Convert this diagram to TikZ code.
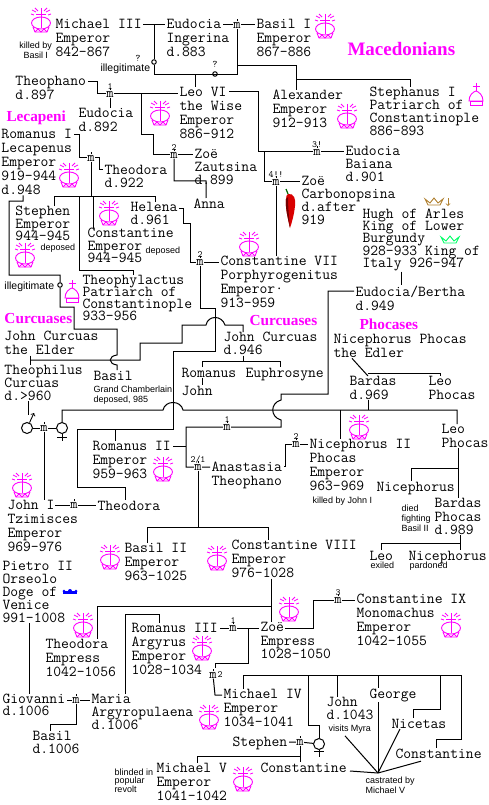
\documentclass[tikz,border=0pt]{standalone}
\usepackage{fontspec}
\newfontfamily\notefont{Liberation Sans}
\newfontfamily\headfont{Liberation Serif}
\definecolor{hot}{HTML}{FF00FF}
\definecolor{kingbrown}{HTML}{B08030}
\definecolor{queengreen}{HTML}{00FF66}
\newcommand\whofont[1]{\fontsize{15.2}{#1}\selectfont\ttfamily\lineskiplimit=-5pt\relax}
\newcommand\topgap[1]{\leavevmode\vrule height #1pt width 0pt\relax}
\tikzset{
  who/.style={inner sep=0,anchor=north west,align=left,
    font=\whofont{14},
    execute at begin node=\topgap{10}},
  lead/.style={font=\whofont{#1}},
  note/.style={inner sep=0,anchor=north west,align=left,
    font=\notefont\fontsize{9}{10}\selectfont,
    execute at begin node=\topgap{7}},
  head/.style={inner sep=0,anchor=west,text=hot,
    font=\headfont\bfseries\fontsize{15.3}{16}\selectfont},
  marr/.style={inner sep=0,label distance=2.5pt,font=\fontsize{14}{14}\selectfont\ttfamily,
    append after command={(\tikzlastnode.north) edge[line width=.8pt] ++(0,-2)}},
  mtag/.style={inner sep=0,font=\fontsize{9.5}{10}\selectfont\ttfamily},
  query/.style={inner sep=0,font=\fontsize{10}{10}\selectfont\ttfamily},
  oval/.style={draw,circle,fill=white,inner sep=0,minimum size=4.5pt},
  sign/.style={draw,circle,inner sep=0,minimum size=11pt},
  crown/.pic={
    \draw[hot,line width=.9pt] (0,3) ellipse (9.5 and 6);
    \draw[hot,line width=.9pt] (-8,7) -- (-6,12) -- (6,12) -- (8,7);
    \draw[hot,line width=.9pt] (-6,12) -- (-3,9) -- (0,12) -- (3,9) -- (6,12);
    \draw[hot,line width=.9pt] (0,-12) -- (0,8) (-5,-6) -- (5,-6);
    \draw[hot,line width=.8pt] (-3,-9) -- (-6,-12) (3,-9) -- (6,-12) (-5,-8) -- (-9,-10) (5,-8) -- (9,-10)
      (-7,-5) -- (-10,-6) (7,-5) -- (10,-6);
  },
  mitre/.pic={
    \draw[hot,line width=.9pt] (0,-12) -- (0,-4) (-3.5,-8.5) -- (3.5,-8.5);
    \draw[hot,line width=.9pt] (-7,6) .. controls (-7,0) and (-3,-3) .. (0,-4) .. controls (3,-3) and (7,0) .. (7,6) -- cycle;
    \draw[hot,line width=.9pt] (-6,6) rectangle (6,10);
  },
  coronet/.pic={
    \draw[pic actions,line width=.9pt] (-9,-3) -- (-6,3) -- (6,3) -- (9,-3) -- (4,1) -- (0,-4) -- (-4,1) -- cycle;
  },
  dogecap/.pic={
    \fill[blue] (-7,-1) -- (7,-1) -- (7,2) -- (-7,2) -- cycle;
    \fill[blue] (-6,-1) circle (1.5) (0,-1) circle (2) (6,-1) circle (1.5);
  },
  pepper/.pic={
    \fill[red!85!black] (-3,-13) .. controls (3,-14) and (5,-8) .. (4,-1) .. controls (3,8) and (1,15) .. (-1,21)
      .. controls (-3,12) and (-6,0) .. (-5,-8) .. controls (-5,-11) and (-4,-13) .. (-3,-13);
    \fill[red!45!black] (-5,-8) .. controls (-6,0) and (-3,12) .. (-1,21) .. controls (-2,10) and (-3,0) .. (-3,-10) -- cycle;
    \draw[green!40!black,line width=1.2pt] (-3,-13) -- (-5,-18);
  },
}
\begin{document}
\begin{tikzpicture}[x=1pt,y=-1pt,line width=1pt]
\useasboundingbox (0,0) rectangle (488,805);

\node[head,font=\headfont\bfseries\fontsize{19}{20}\selectfont] (hMaced) at (347,49) {Macedonians};
\node[head] (hLecap) at (6,118) {Lecapeni};
\node[head] (hCurcL) at (4,319) {Curcuases};
\node[head] (hCurcR) at (249,321) {Curcuases};
\node[head] (hPhoc) at (359,324) {Phocases};

\node[who] (michael) at (55,19) {Michael III\\Emperor\\842–867};
\node[who] (eudocia) at (166,19) {Eudocia\\Ingerina\\d.883};
\node[who] (basil) at (256,19) {Basil I\\Emperor\\867–886};
\node[who] (theophano) at (15,76) {Theophano\\d.897};
\node[who] (eudoxia) at (78,108) {Eudocia\\d.892};
\node[who] (leo) at (179,87) {Leo VI\\the Wise\\Emperor\\886–912};
\node[who] (alexander) at (272,90) {Alexander\\Emperor\\912–913};
\node[who,lead=13] (stephanus) at (369,87) {Stephanus I\\Patriarch of\\Constantinople\\886–893};
\node[who,lead=13] (zautsina) at (194,149) {Zoë\\Zautsina\\d.899};
\node[who,lead=13] (baiana) at (345,146) {Eudocia\\Baiana\\d.901};
\node[who,lead=13] (carbon) at (301,176) {Zoë\\Carbonopsina\\d.after\\919};
\node[who] (romanus) at (1,129) {Romanus I\\Lecapenus\\Emperor\\919–944\\d.948};
\node[who,lead=13] (theodoraL) at (104,165) {Theodora\\d.922};
\node[who] (anna) at (193,198) {Anna};
\node[who,lead=12.5] (stephen) at (15,206) {Stephen\\Emperor\\944–945};
\node[who,lead=13] (helena) at (130,202) {Helena\\d.961};
\node[who,lead=12.5] (constL) at (87,228) {Constantine\\Emperor\\944–945};
\node[who] (conVII) at (220,256) {Constantine VII\\Porphyrogenitus\\Emperor·\\913–959};
\node[who,lead=12.4] (hugh) at (362,208) {Hugh of Arles\\King of Lower\\Burgundy\\928–933 King of\\Italy 926–947};
\node[who] (bertha) at (355,285) {Eudocia/Bertha\\d.949};
\node[who,lead=12] (theophylact) at (82,275) {Theophylactus\\Patriarch of\\Constantinople\\933–956};

\node[who] (johnE) at (4,331) {John Curcuas\\the Elder};
\node[who,lead=13] (theoph) at (4,365) {Theophilus\\Curcuas\\d.>960};
\node[who] (basilC) at (93,370) {Basil};
\node[who,lead=13] (johnC) at (223,332) {John Curcuas\\d.946};
\node[who] (romanusC) at (181,367) {Romanus};
\node[who] (euphro) at (245,367) {Euphrosyne};
\node[who] (johnS) at (181,385) {John};
\node[who] (nicephE) at (333,334) {Nicephorus Phocas\\the Edler};
\node[who] (bardas) at (349,376) {Bardas\\d.969};
\node[who] (leoF) at (428,376) {Leo\\Phocas};
\node[who] (leoP) at (441,424) {Leo\\Phocas};

\node[who] (romII) at (92,441) {Romanus II\\Emperor\\959–963};
\node[who] (anast) at (211,461) {Anastasia\\Theophano};
\node[who] (nicephII) at (309,439) {Nicephorus II\\Phocas\\Emperor\\963–969};
\node[who] (nicephF) at (376,481) {Nicephorus};
\node[who,lead=13.5] (bardasP) at (434,498) {Bardas\\Phocas\\d.989};
\node[who] (leoE) at (369,550) {Leo};
\node[who] (nicephG) at (408,550) {Nicephorus};
\node[who] (johnI) at (7,500) {John I\\Tzimisces\\Emperor\\969–976};
\node[who] (theodoraI) at (97,500) {Theodora};
\node[who] (basilII) at (124,543) {Basil II\\Emperor\\963–1025};
\node[who] (constVIII) at (231,540) {Constantine VIII\\Emperor\\976–1028};
\node[who,lead=13] (pietro) at (2,561) {Pietro II\\Orseolo\\Doge of\\Venice\\991–1008};

\node[who] (constIX) at (356,594) {Constantine IX\\Monomachus\\Emperor\\1042–1055};
\node[who] (romIII) at (131,623) {Romanus III\\Argyrus\\Emperor\\1028–1034};
\node[who,lead=13.5] (zoe) at (260,622) {Zoë\\Empress\\1028–1050};
\node[who] (theodoraE) at (45,639) {Theodora\\Empress\\1042–1056};
\node[who] (michaelIV) at (223,689) {Michael IV\\Emperor\\1034–1041};
\node[who,lead=12] (giovanni) at (2,694) {Giovanni\\d.1006};
\node[who,lead=13] (maria) at (91,694) {Maria\\Argyropulaena\\d.1006};
\node[who,lead=13] (basilS) at (32,731) {Basil\\d.1006};
\node[who] (stephenK) at (232,736) {Stephen};
\node[who] (michaelV) at (156,763) {Michael V\\Emperor\\1041–1042};
\node[who] (constZ) at (260,762) {Constantine};
\node[who,lead=13] (johnM) at (326,697) {John\\d.1043};
\node[who] (george) at (369,688) {George};
\node[who] (nicetas) at (391,718) {Nicetas};
\node[who] (constR) at (395,748) {Constantine};

\node[note,align=center] (nKilled) at (19,41) {killed by\\Basil I};
\node[note,font=\notefont\fontsize{10.5}{10}\selectfont] (nIlleg) at (100,63) {illegitimate};
\node[note,font=\notefont\fontsize{10.5}{10}\selectfont] (nIllegB) at (4,281) {illegitimate};
\node[note] (nDepA) at (40,243) {deposed};
\node[note] (nDepB) at (145,246) {deposed};
\node[note] (nChamber) at (93,385) {Grand Chamberlain\\deposed, 985};
\node[note] (nKilledJ) at (312,496) {killed by John I};
\node[note] (nDied) at (401,504) {died\\fighting\\Basil II};
\node[note] (nExiled) at (370,561) {exiled};
\node[note] (nPardon) at (409,561) {pardoned};
\node[note] (nMyra) at (328,724) {visits Myra};
\node[note] (nCastr) at (365,776) {castrated by\\Michael V};
\node[note,font=\notefont\fontsize{9}{8.6}\selectfont] (nBlind) at (114,768) {blinded in\\popular\\revolt};

\node[query] (qA) at (138,58) {?};
\node[query] (qB) at (215,64) {?};

\node[marr] (mBasil) at (237,25) {m};
\node[marr,label={[mtag]90:1}] (mLeoA) at (110,94) {m};
\node[marr,label={[mtag]90:2}] (mLeoB) at (174,155) {m};
\node[marr,label={[mtag]90:3!}] (mLeoC) at (317,152) {m};
\node[marr,label={[mtag]90:4!!}] (mLeoD) at (276,182) {m};
\node[marr] (mRomI) at (91,158) {m};
\node[marr,label={[mtag]90:2}] (mHelena) at (200,262) {m};
\node[marr] (mJohnT) at (44,428) {m};
\node[marr,label={[mtag]90:1}] (mRomA) at (227,427) {m};
\node[marr,label={[mtag]90:2/1}] (mRomB) at (198,467) {m};
\node[marr,label={[mtag]90:2}] (mNiceph) at (296,444) {m};
\node[marr] (mJohnI) at (74,505) {m};
\node[marr,label={[mtag]90:3}] (mZoeC) at (338,600) {m};
\node[marr,label={[mtag]90:1}] (mZoeA) at (233,628) {m};
\node[marr,label={[mtag]0:2}] (mZoeB) at (213,675) {m};
\node[marr] (mGiov) at (76,700) {m};
\node[marr] (mSteph) at (300,742) {m};

\node[oval] (illA) at (154,62) {};
\node[oval] (illB) at (215,74) {};
\node[oval] (illC) at (60,285) {};
\node[sign] (mars) at (27,428) {};
\node[sign] (venus) at (62,428) {};
\node[sign] (venusB) at (319,744) {};

\coordinate (castr) at (378,773);

% Macedonians
\draw ([shift={(88,6)}]michael.north west) -- ([shift={(-1,6)}]eudocia.north west);
\draw (154,25) -- (illA) -- (154,75) -- (237,75) -- (mBasil);
\draw ([shift={(57,6)}]eudocia.north west) -- (mBasil) -- ([shift={(-1,6)}]basil.north west);
\draw (237,66) -- (296,66) -- ([xshift=24pt]alexander.north west);
\draw (296,80) -- (410,80) -- ([xshift=41pt]stephanus.north west);
\draw (195,75) -- ([xshift=16pt]leo.north west);
\draw ([shift={(73,6)}]theophano.north west) -- (97,82) -- (97,94) -- (mLeoA) -- ([shift={(-1,7)}]leo.north west);
\draw (mLeoA) -- (mLeoA |- eudoxia.north);
\draw (141,94) -- (141,135) -- (153,135) -- (153,155) -- (mLeoB) -- ([shift={(-1,6)}]zautsina.north west);
\draw (mLeoB) -- (174,181) -- (206,181) -- ([xshift=-3pt]anna.north);
\draw ([shift={(50,5)}]leo.north west) -- (258,92) -- (258,152) -- (mLeoC) -- ([shift={(-1,6)}]baiana.north west);
\draw (264,152) |- (mLeoD) -- ([shift={(-1,6)}]carbon.north west);
\draw (mLeoD) -- (mLeoD |- conVII.north);

% Lecapeni
\draw ([shift={(73,6)}]romanus.north west) -- (79,135) -- (79,158) -- (mRomI) -- (99,158) -- (99,170) -- ([shift={(-1,5)}]theodoraL.north west);
\draw (mRomI) -- (91,196);
\draw ([xshift=39pt]stephen.north west) -- (54,196) -- (155,196) -- ([xshift=25pt]helena.north west);
\draw (93,196) -- ([xshift=6pt]constL.north west);
\draw (79,196) -- (79,270) -- (133,270) -- ([xshift=51pt]theophylact.north west);
\draw ([xshift=22pt]romanus.south west) -- (23,201) -- (9,201) -- (9,275) -- (60,275) -- (illC) -- (60,307) -- (74,307) -- (74,329) -- (117,329) -- (117,355)
  .. controls (108,356) and (108,364) .. (117,365) -- ([xshift=24pt]basilC.north west);
\draw ([shift={(49,6)}]helena.north west) -- (183,208) -- (183,223) -- (190,223) -- (190,262) -- (mHelena) -- ([shift={(-1,6)}]conVII.north west);

% Curcuases
\draw ([xshift=26pt]johnE.south west) -- ([xshift=26pt]theoph.north west);
\draw (30,360) -- (140,360) -- (140,343) -- (182,343) -- (182,325) -- (206,325) .. controls (208,315) and (222,315) .. (225,325) -- (243,325) -- ([xshift=20pt]johnC.north west);
\draw ([xshift=20pt]johnC.south west) -- (243,361);
\draw ([xshift=21pt]romanusC.north west) -- (202,361) -- (280,361) -- ([xshift=35pt]euphro.north west);
\draw ([xshift=21pt]romanusC.south west) -- ([xshift=21pt]johnS.north west);
\draw (mHelena) -- (200,308) -- (215,308) -- (215,351) -- (173,351) -- (173,429) -- (77,429) -- (77,487) -- (125,487) -- ([xshift=28pt]theodoraI.north west);
\draw (115,429) -- ([xshift=23pt]romII.north west);
\draw ([xshift=24pt]theoph.south west) -- (28,415);
\draw[->,line width=.9pt] (mars) -- (34,413);
\draw (mars) -- (mJohnT) -- (venus);
\draw (mJohnT) -- ([xshift=37pt]johnI.north west);
\draw (venus) -- (62,441) (57,437) -- (67,437);
\draw ([shift={(48,5)}]johnI.north west) -- (mJohnI) -- ([shift={(-1,5)}]theodoraI.north west);

% Phocases
\draw (venus) -- (62,410) -- (163,410) .. controls (165,400) and (181,400) .. (183,410) -- (457,410) -- ([xshift=16pt]leoP.north west);
\draw ([xshift=19pt]nicephE.south west) -- ([xshift=19pt]bardas.north west);
\draw (368,373) -- (440,373) -- ([xshift=12pt]leoF.north west);
\draw ([xshift=19pt]bardas.south west) -- (368,410);
\draw ([xshift=17pt]leoP.south west) -- ([xshift=24pt]bardasP.north west);
\draw (458,468) -- (411,468) -- ([xshift=35pt]nicephF.north west);
\draw ([xshift=26pt]bardasP.south west) -- (460,543);
\draw ([xshift=12pt]leoE.north west) -- (381,543) -- (460,543) -- ([xshift=52pt]nicephG.north west);
\draw (340,410) -- ([xshift=31pt]nicephII.north west);
\draw ([shift={(-1,6)}]bertha.north west) -- (328,291) -- (328,394) -- (281,394) -- (281,400) .. controls (270,403) and (270,417) .. (281,420) -- (281,427) -- (mRomA) -- (186,427) -- (186,467) -- (mRomB) -- ([shift={(-1,6)}]anast.north west);
\draw ([shift={(81,5)}]romII.north west) -- (186,446);
\draw ([shift={(73,5)}]anast.north west) -- (285,466) -- (285,444) -- (mNiceph) -- ([shift={(-1,5)}]nicephII.north west);
\draw ([xshift=39pt]hugh.south west) -- ([xshift=46pt]bertha.north west);

% Basil II onwards
\draw (mRomB) -- (198,527);
\draw ([xshift=23pt]basilII.north west) -- (147,527) -- (268,527) -- ([xshift=37pt]constVIII.north west);
\draw ([xshift=40pt]constVIII.south west) -- ([xshift=11pt]zoe.north west);
\draw (271,606) -- (97,606) -- ([xshift=52pt]theodoraE.north west);
\draw ([shift={(89,5)}]romIII.north west) -- (mZoeA) -- ([shift={(-1,6)}]zoe.north west);
\draw ([shift={(25,6)}]zoe.north west) -- (313,628) -- (313,600) -- (mZoeC) -- ([shift={(-1,6)}]constIX.north west);
\draw (248,628) -- (248,663) -- (215,663) -- (215,668);
\draw (mZoeB) -- (215,695) -- ([shift={(-1,6)}]michaelIV.north west);
\draw ([xshift=20pt]michaelIV.north west) -- (243,675) -- (461,675) -- (461,739) -- (436,739) -- ([xshift=41pt]constR.north west);
\draw (308,675) -- (308,725) -- (319,725) -- (venusB);
\draw (337,675) -- ([xshift=11pt]johnM.north west);
\draw (378,675) -- ([xshift=9pt]george.north west);
\draw (440,675) -- (440,709) -- (413,709) -- ([xshift=22pt]nicetas.north west);
\draw ([xshift=9pt]george.south west) -- (castr);
\draw ([shift={(17,2)}]nMyra.south west) -- (castr);
\draw ([xshift=9pt]nicetas.south west) -- (castr);
\draw ([shift={(26,2)}]constR.south west) -- (castr);
\draw ([shift={(90,9)}]constZ.north west) -- (castr);
\draw (venusB) -- (319,757) (314,751) -- (324,751);
\draw ([shift={(57,6)}]stephenK.north west) -- (mSteph) -- (venusB);
\draw (mSteph) -- ([xshift=40pt]constZ.north west);
\draw (300,756) -- (197,756) -- ([xshift=41pt]michaelV.north west);
\draw ([xshift=27pt]pietro.south west) -- ([xshift=27pt]giovanni.north west);
\draw ([shift={(65,6)}]giovanni.north west) -- (mGiov) -- ([shift={(-1,6)}]maria.north west);
\draw (mGiov) -- (76,724) -- (50,724) -- ([xshift=18pt]basilS.north west);
\draw ([xshift=34pt]maria.north west) -- (125,614) -- (159,614) -- ([xshift=28pt]romIII.north west);

\pic at (41,20) {crown};
\pic at (325,26) {crown};
\pic at (160,113) {crown};
\pic at (347,116) {crown};
\pic at (69,175) {crown};
\pic at (25,255) {crown};
\pic at (109,213) {crown};
\pic at (249,244) {crown};
\pic at (163,469) {crown};
\pic at (22,485) {crown};
\pic at (110,557) {crown};
\pic at (217,558) {crown};
\pic at (359,427) {crown};
\pic at (289,609) {crown};
\pic at (451,625) {crown};
\pic at (83,625) {crown};
\pic at (202,648) {crown};
\pic at (209,717) {crown};
\pic at (243,779) {crown};
\pic at (476,95) {mitre};
\pic at (72,292) {mitre};
\pic[draw=kingbrown] at (434,202) {coronet};
\pic[draw=queengreen] at (450,240) {coronet};
\pic at (70,592) {dogecap};
\pic at (291,207) {pepper};
\draw[kingbrown,line width=.8pt,->] (448,198) -- (448,206);
\end{tikzpicture}
\end{document}
